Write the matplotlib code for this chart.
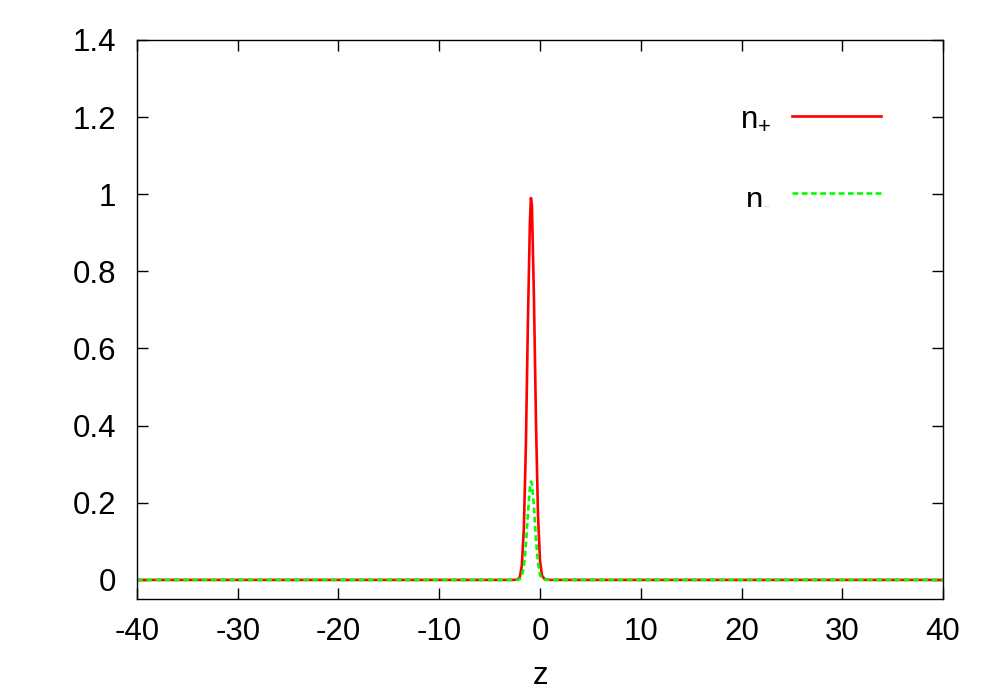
import matplotlib
matplotlib.use("Agg")
import matplotlib.pyplot as plt

plt.rcParams['font.family'] = ['Liberation Sans', 'DejaVu Sans']
plt.rcParams['mathtext.fontset'] = 'custom'
plt.rcParams['mathtext.rm'] = 'Liberation Sans'
plt.rcParams['mathtext.it'] = 'Liberation Sans'
plt.rcParams['axes.unicode_minus'] = False

z = [-40, -2.6, -2.2, -2.0, -1.8, -1.6, -1.4, -1.2, -1.0, -0.9, -0.8, -0.6, -0.4, -0.2, 0.0, 0.2, 0.5, 1.0, 40]
n_plus = [0, 0, 0.001, 0.008, 0.038, 0.135, 0.35, 0.67, 0.93, 0.99, 0.97, 0.73, 0.41, 0.168, 0.05, 0.011, 0.001, 0, 0]
n_minus = [0, 0, 0.0003, 0.002, 0.010, 0.035, 0.09, 0.172, 0.24, 0.255, 0.25, 0.19, 0.105, 0.043, 0.013, 0.003, 0.0003, 0, 0]

xticks = [-40, -30, -20, -10, 0, 10, 20, 30, 40]
yticks = [0, 0.2, 0.4, 0.6, 0.8, 1.0, 1.2, 1.4]
ytick_labels = ['0', '0.2', '0.4', '0.6', '0.8', '1', '1.2', '1.4']

fs = 22.5
fig = plt.figure(figsize=(10, 7), dpi=100)
ax = fig.add_axes([0.137, 0.144, 0.806, 0.799])

ax.plot(z, n_plus, color='#ff0000', lw=1.9, label=r'n$_{\text{+}}$')
ax.plot(z, n_minus, color='#00ff00', lw=1.9, ls=(0, (2.2, 1.3)), label=r'n$_{\text{-}}$')

ax.set_xlim(-40, 40)
ax.set_ylim(-0.05, 1.4)
ax.set_xticks(xticks)
ax.set_yticks(yticks)
ax.set_yticklabels(ytick_labels)
ax.tick_params(direction='in', length=8, width=1, top=True, right=True, labelsize=fs)
ax.tick_params(axis='x', pad=13)
ax.tick_params(axis='y', pad=15)
for s in ax.spines.values():
    s.set_linewidth(1)
ax.set_xlabel('z', fontsize=fs, labelpad=10)

leg = ax.legend(loc='center right', bbox_to_anchor=(0.881, 1 - 157.5 / 700), bbox_transform=fig.transFigure,
                frameon=False, markerfirst=False, borderpad=0, borderaxespad=0,
                fontsize=fs, handlelength=2.85, labelspacing=1.5, handletextpad=0.67)

fig.savefig('out.png', dpi=100)
